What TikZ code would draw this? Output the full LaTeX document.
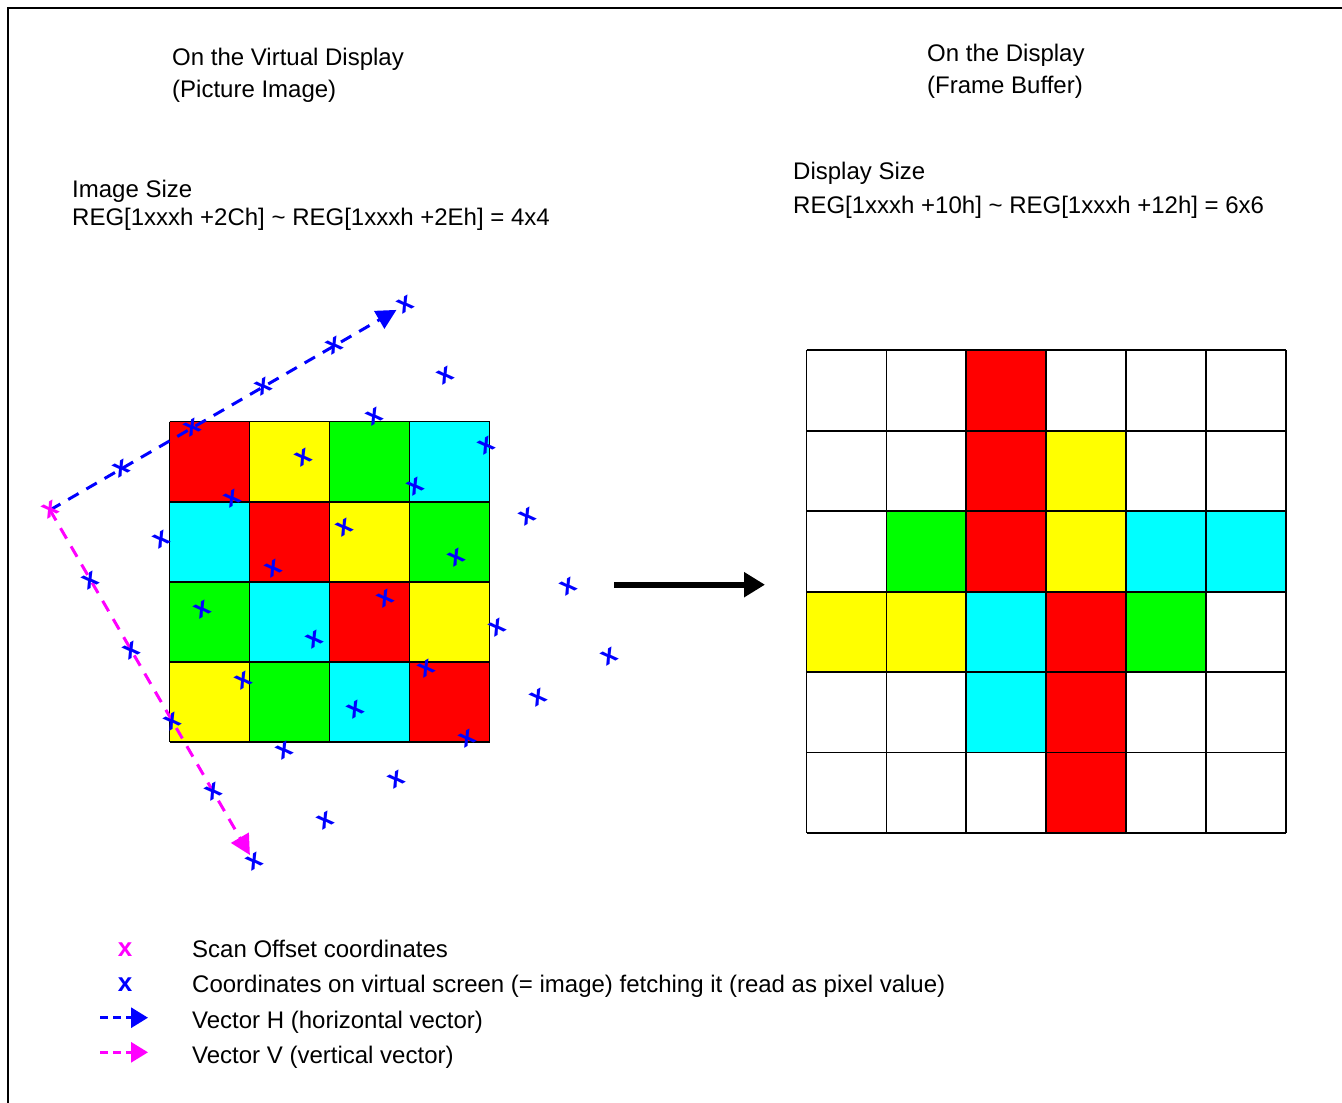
\documentclass[tikz,border=0pt]{standalone}
\usepackage{fontspec}
\setmainfont{Liberation Sans}
\usetikzlibrary{arrows.meta}
\definecolor{cR}{RGB}{255,0,0}
\definecolor{cY}{RGB}{255,255,0}
\definecolor{cG}{RGB}{0,255,0}
\definecolor{cC}{RGB}{0,255,255}
\definecolor{cW}{RGB}{255,255,255}
\definecolor{cB}{RGB}{0,0,255}
\definecolor{cM}{RGB}{255,0,255}
\begin{document}
\begin{tikzpicture}[x=1pt,y=-1pt,
  lbl/.style={anchor=base west, inner sep=0pt, font=\fontsize{24}{28}\selectfont},
  mk/.style={inner sep=0pt, font=\fontsize{27}{30}\selectfont\bfseries, text=cB, rotate=30},
  legmk/.style={inner sep=0pt, font=\fontsize{26}{30}\selectfont\bfseries},
  gridline/.style={line width=1.8pt, black},
  vec/.style={line width=3pt, dash pattern=on 12pt off 9pt, -{Triangle[length=20pt,width=20pt]}},
  legvec/.style={line width=3pt, dash pattern=on 8pt off 5pt, -{Triangle[length=17pt,width=20pt]}},
  bigarrow/.style={line width=6pt, -{Triangle[length=21pt,width=24pt]}}]
\useasboundingbox (0,0) rectangle (1342,1103);
\fill[white] (0,0) rectangle (1342,1103);
% frame
\draw[line width=1.2pt] (8,1103) -- (8,8) -- (1342,8);

% titles
\node[lbl] (t1) at (172,65) {On the Virtual Display};
\node[lbl] (t2) at (172,97) {(Picture Image)};
\node[lbl] (t3) at (927,61) {On the Display};
\node[lbl] (t4) at (927,93.5) {(Frame Buffer)};
\node[lbl] (t5) at (72,197) {Image Size};
\node[lbl] (t6) at (72,225.5) {REG[1xxxh +2Ch] \textasciitilde{} REG[1xxxh +2Eh] = 4x4};
\node[lbl] (t7) at (793,179) {Display Size};
\node[lbl] (t8) at (793,213.5) {REG[1xxxh +10h] \textasciitilde{} REG[1xxxh +12h] = 6x6};

% left image 4x4
\foreach \c [count=\i from 0] in {cR,cY,cG,cC,cC,cR,cY,cG,cG,cC,cR,cY,cY,cG,cC,cR} {
  \pgfmathtruncatemacro\col{mod(\i,4)}
  \pgfmathtruncatemacro\row{div(\i,4)}
  \fill[\c] (169.5+80*\col,421.5+80.1*\row) rectangle ++(80,80.1);
}
\foreach \k in {0,...,4} {
  \draw[gridline] (169.5+80*\k,421.5) -- (169.5+80*\k,742);
  \draw[gridline] (169.5,421.5+80.1*\k) -- (489.5,421.5+80.1*\k);
}

% right frame buffer 6x6
\foreach \c [count=\i from 0] in {cW,cW,cR,cW,cW,cW, cW,cW,cR,cY,cW,cW, cW,cG,cR,cY,cC,cC, cY,cY,cC,cR,cG,cW, cW,cW,cC,cR,cW,cW, cW,cW,cW,cR,cW,cW} {
  \pgfmathtruncatemacro\col{mod(\i,6)}
  \pgfmathtruncatemacro\row{div(\i,6)}
  \fill[\c] (806.5+79.9*\col,350.3+80.45*\row) rectangle ++(79.9,80.45);
}
\foreach \k in {0,...,6} {
  \draw[gridline] (806.5+79.9*\k,350.3) -- (806.5+79.9*\k,833);
  \draw[gridline] (806.5,350.3+80.45*\k) -- (1286,350.3+80.45*\k);
}

% big arrow
\coordinate (a1) at (614,584.7);
\coordinate (a2) at (765,584.7);
\draw[bigarrow] (a1) -- (a2);

% vectors
\coordinate (Ocoord) at (50,510);
\coordinate (Ht) at (396.5,309.9);
\coordinate (Vt) at (249.9,855);
\draw[vec, cB] (Ocoord) -- (Ht);
\draw[vec, cM] (Ocoord) -- (Vt);

% sample markers
\foreach \i in {0,...,5} {
  \foreach \j in {0,...,5} {
    \ifnum\i\j=0 \else
      \node[mk] (s\i\j) at (50+71*\i+40.8*\j,510-41*\i+70.4*\j) {x};
    \fi
  }
}
\node[mk, text=cM] (s00) at (Ocoord) {x};

% legend
\node[legmk, text=cM] (lm1) at (125,950) {x};
\node[legmk, text=cB] (lm2) at (125,985) {x};
\coordinate (lh1) at (100,1017.7);
\coordinate (lh2) at (148,1017.7);
\coordinate (lv1) at (100,1052.3);
\coordinate (lv2) at (148,1052.3);
\draw[legvec, cB] (lh1) -- (lh2);
\draw[legvec, cM] (lv1) -- (lv2);
\node[lbl] (l1) at (192,957) {Scan Offset coordinates};
\node[lbl] (l2) at (192,992) {Coordinates on virtual screen (= image) fetching it (read as pixel value)};
\node[lbl] (l3) at (192,1028) {Vector H (horizontal vector)};
\node[lbl] (l4) at (192,1063) {Vector V (vertical vector)};
\end{tikzpicture}
\end{document}
